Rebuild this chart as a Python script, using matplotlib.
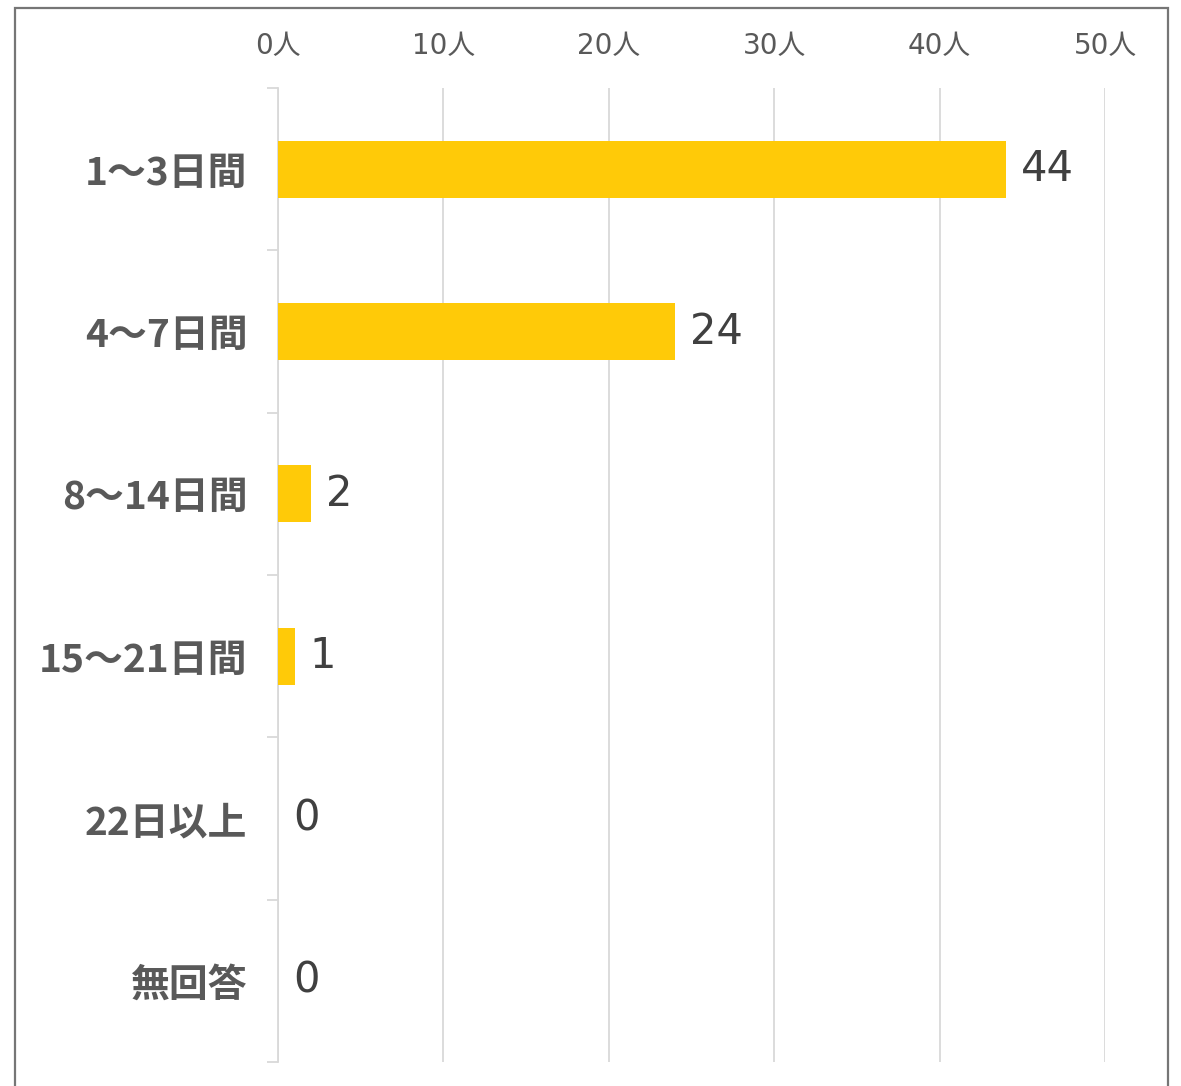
import matplotlib.pyplot as plt
import numpy as np
from matplotlib.patches import Rectangle

plt.rcParams['font.family'] = ['Noto Sans CJK JP', 'DejaVu Sans']

categories = ["1〜3日間", "4〜7日間", "8〜14日間", "15〜21日間", "22日以上", "無回答"]
counts = [44, 24, 2, 1, 0, 0]
xticks = [0, 10, 20, 30, 40, 50]
xtick_labels = [f"{v}人" for v in xticks]


def main():
    W, H = 1181, 1086
    fig = plt.figure(figsize=(W / 100, H / 100), dpi=100)
    fig.patch.set_facecolor("white")

    # outer frame (bottom edge runs off the image)
    fig.patches.append(Rectangle((15 / W, -0.05), (1168 - 15) / W, 1.05 - 8 / H,
                                 transform=fig.transFigure, fill=False,
                                 edgecolor="#767676", linewidth=1.6))

    ax = fig.add_axes([278 / W, 1 - 1062 / H, (1105 - 278) / W, (1062 - 88) / H])
    y = np.arange(len(categories))
    ax.barh(y, counts, height=0.35, color="#FFCA08", zorder=3)

    ax.set_xlim(0, 50)
    ax.set_ylim(len(categories) - 0.5, -0.5)
    ax.set_xticks(xticks)
    ax.set_xticklabels(xtick_labels, family=["DejaVu Sans", "Noto Sans CJK JP"])
    ax.xaxis.tick_top()
    ax.tick_params(axis="x", length=0, pad=20, labelsize=20, labelcolor="#595959")
    ax.grid(axis="x", color="#D9D9D9", linewidth=1.3, zorder=0)

    ax.set_yticks(y)
    ax.set_yticklabels(categories, fontsize=28, fontweight="bold", color="#595959")
    ax.set_yticks(np.arange(len(categories) + 1) - 0.5, minor=True)
    ax.tick_params(axis="y", which="major", length=0, pad=22)
    ax.tick_params(axis="y", which="minor", length=8, color="#D9D9D9", width=1.3)

    for side in ["top", "right", "bottom"]:
        ax.spines[side].set_visible(False)
    ax.spines["left"].set_color("#D9D9D9")
    ax.spines["left"].set_linewidth(1.3)

    for yi, v in zip(y, counts):
        ax.text(v + 0.9, yi, str(v), va="center", ha="left",
                fontsize=30, color="#404040", family="DejaVu Sans", zorder=4)

    fig.savefig("out.png", dpi=100)


if __name__ == "__main__":
    main()
